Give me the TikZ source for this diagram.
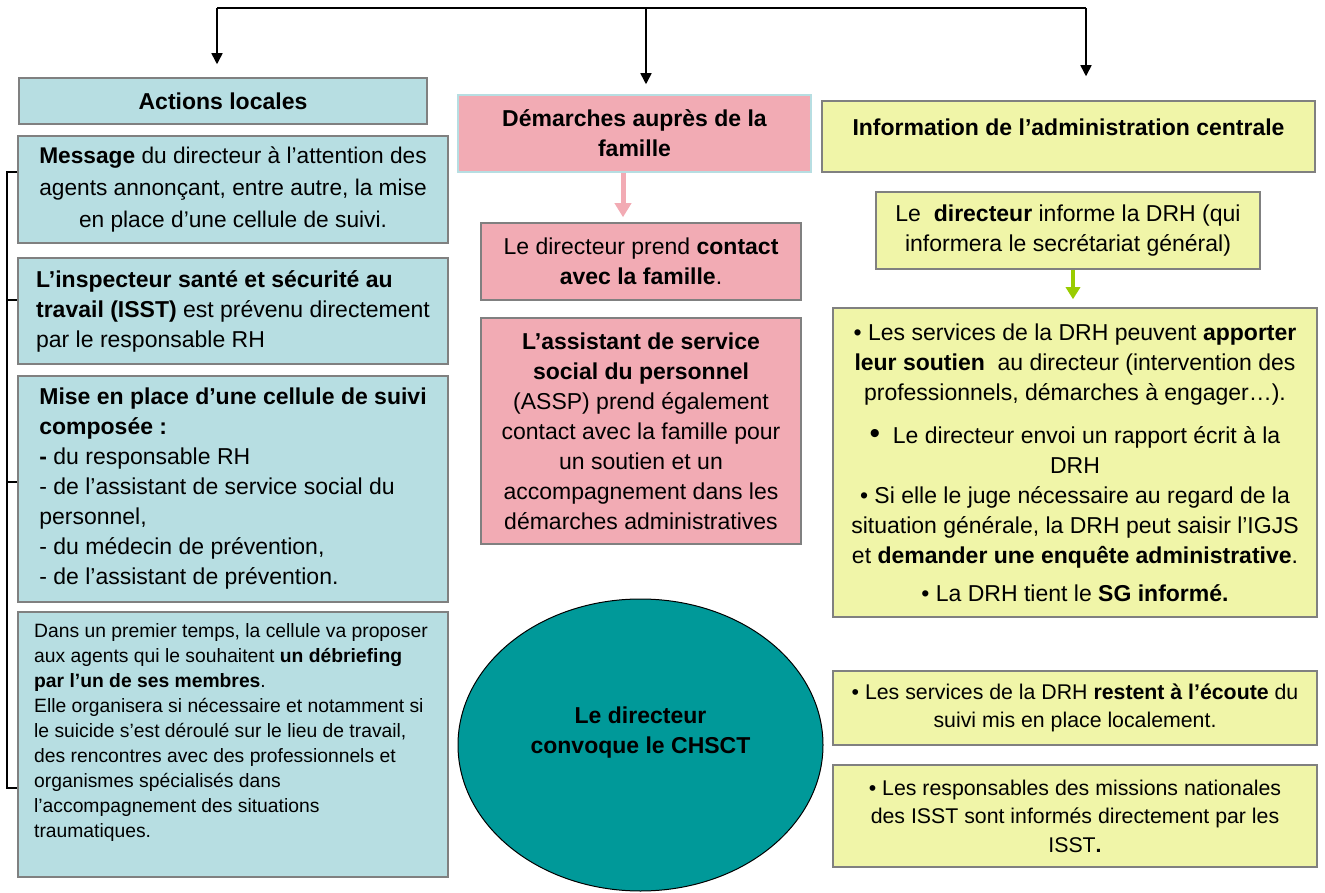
\documentclass[tikz,border=0pt]{standalone}
\usepackage{fontspec}
\setmainfont{Liberation Sans}
\usetikzlibrary{arrows.meta,shapes.geometric}
\definecolor{bleuclair}{RGB}{183,222,226}
\definecolor{rose}{RGB}{242,171,180}
\definecolor{jaune}{RGB}{240,245,168}
\definecolor{sarcelle}{RGB}{0,153,153}
\definecolor{vert}{RGB}{153,204,0}
\definecolor{bord}{RGB}{128,128,128}
\begin{document}
\begin{tikzpicture}[
    x=1pt,y=-1pt,
    boite/.style={draw=bord,line width=1.5pt,inner sep=0pt,font=\fontsize{23}{30}\selectfont},
    locale/.style={boite,fill=bleuclair,minimum width=430pt},
    famille/.style={boite,fill=rose,minimum width=320pt,align=center},
    centrale/.style={boite,fill=jaune,minimum width=484pt,align=center},
    fleche/.style={line width=1.5pt,-{Triangle[width=11pt,length=11pt]}},
    ]
    \useasboundingbox (0,0) rectangle (1325,893);
    \node[locale,minimum width=408pt,minimum height=46pt,font=\fontsize{23}{30}\selectfont\bfseries] (actions) at (223,101) {Actions locales};
    \node[locale,minimum height=107pt,align=center,font=\fontsize{22.7}{32}\selectfont] (message) at (233,189.5) {\textbf{Message} du directeur à l’attention des\\ agents annonçant, entre autre, la mise\\ en place d’une cellule de suivi.};
    \node[locale,minimum height=106pt,align=left] (isst) at (233,311) {\textbf{L’inspecteur santé et sécurité au}\\ \textbf{travail (ISST)} est prévenu directement\\ par le responsable RH};
    \node[locale,minimum height=226pt,align=left] (mise) at (233,489) {\textbf{Mise en place d’une cellule de suivi}\\ \textbf{composée :}\\ \textbf{-} du responsable RH\\ - de l’assistant de service social du\\ personnel,\\ - du médecin de prévention,\\ - de l’assistant de prévention.};
    \node[locale,minimum height=265pt] (debrief) at (233,744.5) {};
    \node[align=left,font=\fontsize{19.3}{25}\selectfont] (debrieftxt) at (231,733) {Dans un premier temps, la cellule va proposer\\ aux agents qui le souhaitent \textbf{un débriefing}\\ \textbf{par l’un de ses membres}.\\ Elle organisera si nécessaire et notamment si\\ le suicide s’est déroulé sur le lieu de travail,\\ des rencontres avec des professionnels et\\ organismes spécialisés dans\\ l’accompagnement des situations\\ traumatiques.};
    \node[famille,draw=bleuclair,minimum width=353pt,minimum height=77pt,font=\fontsize{23}{30}\selectfont\bfseries] (demarches) at (634.5,133.5) {Démarches auprès de la\\ famille};
    \node[famille,minimum height=77pt] (contact) at (641,261.5) {Le directeur prend \textbf{contact}\\ \textbf{avec la famille}.};
    \node[famille,minimum height=226pt] (assp) at (641,431) {\textbf{L’assistant de service}\\ \textbf{social du personnel}\\ (ASSP) prend également\\ contact avec la famille pour\\ un soutien et un\\ accompagnement dans les\\ démarches administratives};
    \node[ellipse,draw,line width=1pt,fill=sarcelle,minimum width=365pt,minimum height=292pt] (chsct) at (640.5,745) {};
    \node[align=center,font=\fontsize{23}{30}\selectfont\bfseries] (chscttxt) at (640.5,733) {Le directeur\\ convoque le CHSCT};
    \node[centrale,minimum width=493pt,minimum height=71pt] (info) at (1068.5,136.5) {};
    \node[font=\fontsize{23}{30}\selectfont\bfseries] (infotxt) at (1068.5,127) {Information de l’administration centrale};
    \node[centrale,minimum width=384pt,minimum height=77pt] (dirdrh) at (1068,230.5) {Le\ \ \textbf{directeur} informe la DRH (qui\\ informera le secrétariat général)};
    \node[centrale,minimum height=309pt] (services) at (1075,462.5) {• Les services de la DRH peuvent \textbf{apporter}\\ \textbf{leur soutien}\ \ au directeur (intervention des\\ professionnels, démarches à engager…).\\[13pt] {\fontsize{30}{30}\selectfont •}\ \ Le directeur envoi un rapport écrit à la\\ DRH\\ • Si elle le juge nécessaire au regard de la\\ situation générale, la DRH peut saisir l’IGJS\\ et \textbf{demander une enquête administrative}.\\[8pt] • La DRH tient le \textbf{SG informé.}};
    \node[centrale,minimum height=74pt,font=\fontsize{21.3}{28.5}\selectfont] (ecoute) at (1075,708) {• Les services de la DRH \textbf{restent à l’écoute} du\\ suivi mis en place localement.};
    \node[centrale,minimum height=102pt,font=\fontsize{21.3}{28.5}\selectfont] (missions) at (1075,816) {• Les responsables des missions nationales\\ des ISST sont informés directement par les\\ ISST\textbf{.}};
    \coordinate (tl) at (217,8);
    \coordinate (tm) at (646,8);
    \coordinate (tr) at (1086,8);
    \draw[line width=1.5pt] (tl) -- (tr);
    \draw[fleche,shorten >=13pt] (tl) -- (tl |- actions.north);
    \draw[fleche,shorten >=10pt] (tm) -- (tm |- demarches.north);
    \draw[fleche,shorten >=24pt] (tr) -- (tr |- info.north);
    \draw[rose,line width=5pt,-{Triangle[width=16pt,length=14pt]},shorten >=5pt] ([xshift=-11.5pt]demarches.south) -- ([xshift=-18pt]contact.north);
    \draw[vert,line width=4pt,-{Triangle[width=14pt,length=12pt]},shorten >=8pt] ([xshift=5pt]dirdrh.south) -- ([xshift=-2pt]services.north);
    \coordinate (b1) at (7,172);
    \coordinate (b2) at (7,300);
    \coordinate (b3) at (7,482);
    \coordinate (b4) at (7,788);
    \draw[line width=1.2pt] (message.west |- b1) -- (b1) -- (b4) -- (debrief.west |- b4);
    \draw[line width=1.2pt] (b2) -- (isst.west |- b2);
    \draw[line width=1.2pt] (b3) -- (mise.west |- b3);
  \end{tikzpicture}
\end{document}
